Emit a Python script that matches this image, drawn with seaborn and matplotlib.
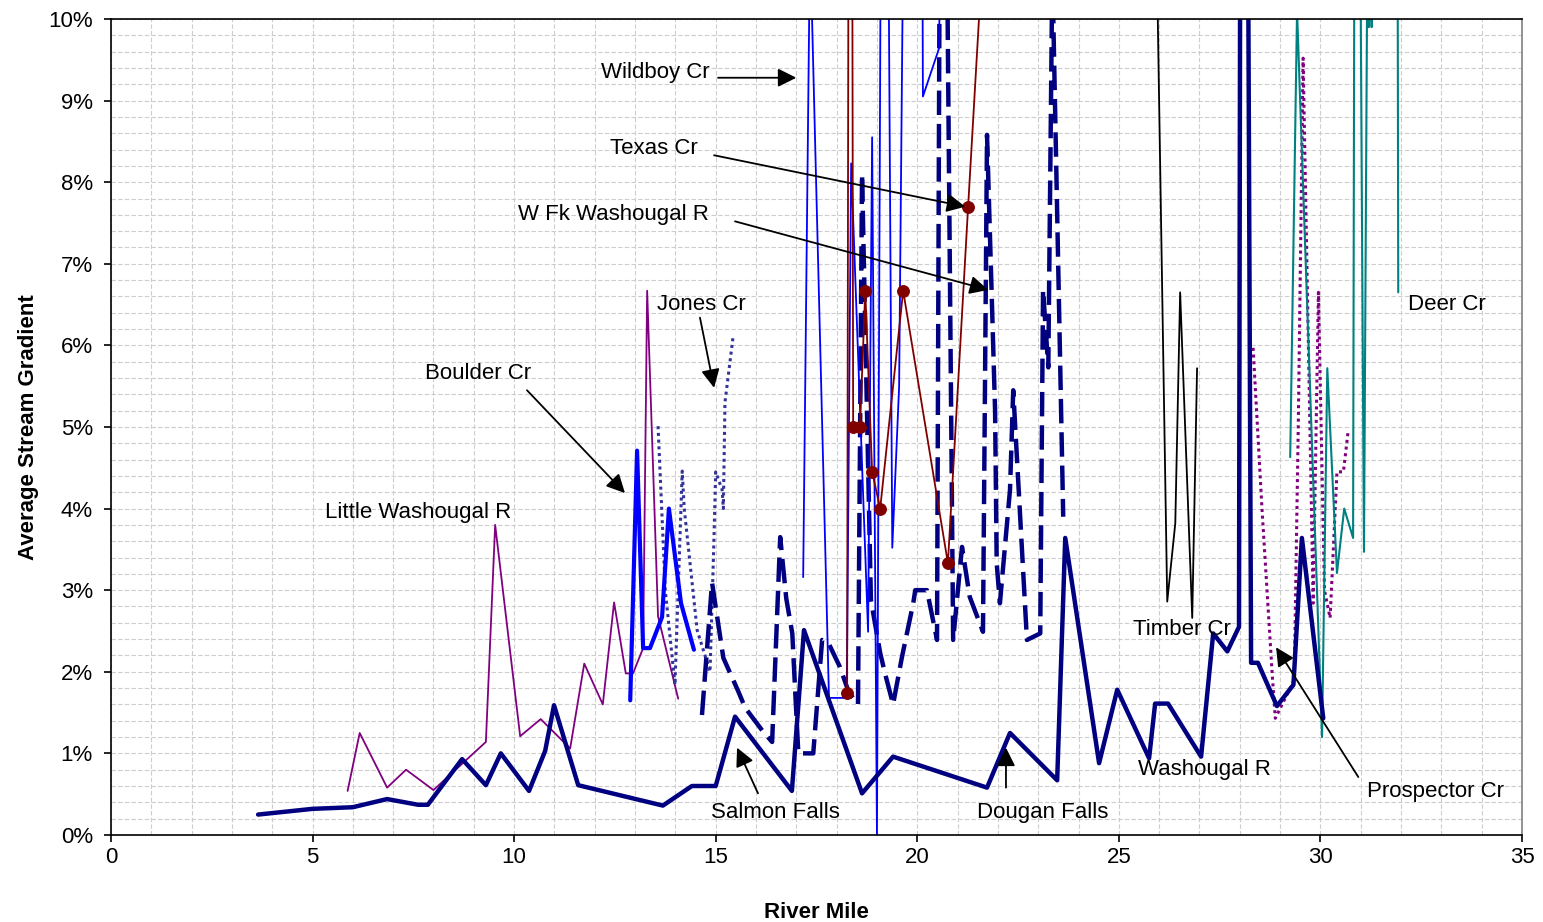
import matplotlib
matplotlib.use("Agg")
import matplotlib.pyplot as plt
import seaborn as sns
import numpy as np

# ---- data (river mile, average stream gradient %) ----
washougal_x = [3.65, 5.0, 6.0, 6.85, 7.62, 7.86, 8.71, 9.30, 9.67, 10.37, 10.77, 10.99, 11.59, 13.69, 14.41, 15.0,
               np.nan, 15.48, 16.89, 17.19, 18.63, 19.40, 21.73,
               np.nan, 22.30, 23.47, 23.67, 24.51, 24.96, 25.75, 25.90, 26.22, 27.04, 27.34, 27.69, 27.98,
               28.02, 28.18, 28.28, 28.45, 28.92, 29.33, 29.54, 30.07]
washougal_y = [0.25, 0.32, 0.34, 0.44, 0.37, 0.37, 0.93, 0.61, 1.0, 0.54, 1.03, 1.59, 0.61, 0.36, 0.6, 0.6,
               np.nan, 1.45, 0.54, 2.51, 0.51, 0.96, 0.58,
               np.nan, 1.25, 0.67, 3.64, 0.88, 1.78, 0.94, 1.61, 1.61, 0.96, 2.47, 2.25, 2.55,
               14.0, 14.0, 2.11, 2.11, 1.58, 1.84, 3.64, 1.43]

little_x = [5.87, 6.17, 6.85, 7.32, 8.0, 9.30, 9.53, 10.15, 10.66, 11.39, 11.74, 12.20, 12.48, 12.77, 12.95,
            13.20, 13.30, 13.57, 14.07]
little_y = [0.54, 1.25, 0.58, 0.80, 0.55, 1.14, 3.80, 1.21, 1.42, 1.06, 2.10, 1.60, 2.85, 1.98, 1.98,
            2.29, 6.67, 2.68, 1.67]

boulder_x = [12.88, 13.05, 13.20, 13.37, 13.67, 13.84, 14.14, 14.46]
boulder_y = [1.65, 4.71, 2.29, 2.29, 2.67, 4.00, 2.84, 2.27]

jones_x = [13.57, 13.75, 13.99, 14.17, 14.22, 14.54, 14.86, 14.95, 15.0, 15.16, 15.19, 15.23, 15.43]
jones_y = [5.01, 3.0, 1.84, 4.46, 4.0, 2.51, 2.0, 3.5, 4.45, 4.23, 4.0, 5.3, 6.1]

wfk_x = [14.66, 14.91, 15.19, 15.56, 15.73, 16.17, 16.40, 16.60, 16.75, 16.90, 17.05, 17.42, 17.64, 17.80,
         18.08, 18.30, 18.53, 18.63, 18.85, 19.08, 19.20, 19.40, 19.62, 19.90, 19.95, 20.24, 20.49, 20.55,
         20.75, 20.89, 21.11, 21.30, 21.63, 21.73, 21.93, 21.97, 22.05, 22.30, 22.38, 22.72, 23.05, 23.12,
         23.25, 23.35, 23.62]
wfk_y = [1.47, 3.09, 2.17, 1.76, 1.56, 1.27, 1.14, 3.65, 2.9, 2.47, 1.0, 1.0, 2.39, 2.35,
         2.06, 1.75, 1.6, 8.1, 2.88, 2.23, 1.98, 1.6, 2.18, 2.84, 3.0, 3.0, 2.39, 10.2,
         10.2, 2.39, 3.53, 2.92, 2.49, 8.58, 5.2, 3.33, 2.84, 4.23, 5.45, 2.39, 2.47, 6.68,
         5.73, 10.6, 3.9]

wildboy_x = [17.17, 17.34, 17.81, 18.25, 18.36, 18.78, 18.88, 19.0, 19.17, 19.38, 19.55, 19.67, 20.12, 20.14,
             20.54, 20.60]
wildboy_y = [3.16, 11.0, 1.68, 1.68, 8.23, 2.49, 8.55, 0.0, 20.0, 3.52, 5.5, 12.0, 12.0, 9.05,
             9.64, 12.0]

texas_x = [18.26, 18.34, 18.41, 18.58, 18.71, 18.88, 19.08, 19.65, 20.76, 21.26, 21.80]
texas_y = [1.74, 24.0, 5.0, 5.0, 6.67, 4.45, 4.0, 6.67, 3.33, 7.69, 12.3]

timber_x = [25.90, 26.20, 26.40, 26.52, 26.82, 26.94]
timber_y = [12.0, 2.86, 3.82, 6.65, 2.66, 5.72]

prospector_x = [28.33, 28.55, 28.80, 28.88, 29.05, 29.35, 29.45, 29.57, 29.82, 29.95, 30.10, 30.24, 30.41,
                30.57, 30.69]
prospector_y = [5.97, 4.0, 2.0, 1.43, 1.6, 1.9, 5.0, 9.52, 2.84, 6.65, 3.0, 2.66, 4.45,
                4.45, 4.96]

deer_x = [29.25, 29.42, 30.04, 30.17, 30.41, 30.59, 30.81, 30.88, 31.08, 31.16, 31.20, 31.24, 31.27, 31.30,
          31.90, 31.93]
deer_y = [4.63, 10.1, 1.2, 5.72, 3.21, 4.0, 3.64, 20.0, 3.47, 10.5, 9.9, 10.5, 9.9, 10.5,
          15.0, 6.65]

y_ticks = [0, 1, 2, 3, 4, 5, 6, 7, 8, 9, 10]
y_tick_labels = [f"{v}%" for v in y_ticks]
x_ticks = [0, 5, 10, 15, 20, 25, 30, 35]

sns.set_style("white")
plt.rcParams['font.family'] = ['Liberation Sans', 'DejaVu Sans']
plt.rcParams['font.size'] = 16
plt.rcParams['text.color'] = 'black'
plt.rcParams['axes.labelcolor'] = 'black'
plt.rcParams['xtick.color'] = 'black'
plt.rcParams['ytick.color'] = 'black'

fig = plt.figure(figsize=(15.43, 9.22), dpi=100)
ax = fig.add_axes([0.0719, 0.0944, 0.9145, 0.885])

# (x, y, color, width, linestyle)
series = [
    (little_x, little_y, '#800080', 1.3, '-'),
    (jones_x, jones_y, '#333399', 2.2, (0, (1, 1.2))),
    (wfk_x, wfk_y, '#000080', 3.2, (0, (5.5, 2))),
    (wildboy_x, wildboy_y, '#0000FF', 1.3, '-'),
    (timber_x, timber_y, '#000000', 1.3, '-'),
    (prospector_x, prospector_y, '#800080', 2.2, (0, (1, 1.2))),
    (deer_x, deer_y, '#008080', 1.5, '-'),
    (washougal_x, washougal_y, '#000080', 3.2, '-'),
    (boulder_x, boulder_y, '#0000FF', 3.0, '-'),
]
for xs, ys, col, lw, ls in series:
    sns.lineplot(x=xs, y=ys, ax=ax, sort=False, estimator=None, color=col,
                 linewidth=lw, linestyle=ls)

sns.lineplot(x=texas_x, y=texas_y, ax=ax, sort=False, estimator=None, color='#800000',
             linewidth=1.3, marker='o', markersize=8.5, markeredgecolor='#800000')

ax.set_xlim(0, 35)
ax.set_ylim(0, 10)
ax.set_xticks(x_ticks)
ax.set_yticks(y_ticks)
ax.set_yticklabels(y_tick_labels)
ax.set_xticks(np.arange(0, 36, 1), minor=True)
ax.set_yticks(np.arange(0, 10.01, 0.2), minor=True)
ax.grid(which='both', color='#cdcdcd', linestyle=(0, (4, 2)), linewidth=0.8)
ax.set_axisbelow(True)
ax.tick_params(which='major', direction='out', length=5, width=1.2, left=True, bottom=True,
               labelsize=16, pad=4)
ax.tick_params(axis='y', which='major', pad=8)
ax.tick_params(which='minor', length=0)
for side in ['left', 'bottom', 'top']:
    ax.spines[side].set_color('#000000')
    ax.spines[side].set_linewidth(1.2)
ax.spines['right'].set_color('#808080')
ax.spines['right'].set_linewidth(1.2)

ax.set_xlabel('River Mile', fontsize=16, fontweight='bold', labelpad=24)
ax.set_ylabel('Average Stream Gradient', fontsize=16, fontweight='bold', labelpad=7)

# labels with arrows: (text, text x, text y, arrow start, arrow end)
arrow_kw = dict(arrowstyle='-|>', color='black', lw=1.3, mutation_scale=28, shrinkA=0, shrinkB=0)
notes = [
    ('Wildboy Cr', 12.16, 9.35, (15.06, 9.28), (17.0, 9.28)),
    ('Texas Cr', 12.38, 8.41, (14.96, 8.33), (21.19, 7.70)),
    ('W Fk Washougal R', 10.10, 7.60, (15.48, 7.52), (21.76, 6.68)),
    ('Jones Cr', 13.55, 6.50, (14.61, 6.34), (14.96, 5.48)),
    ('Boulder Cr', 7.79, 5.66, (10.32, 5.45), (12.75, 4.19)),
    ('Little Washougal R', 5.31, 3.95, None, None),
    ('Salmon Falls', 14.88, 0.28, (16.05, 0.51), (15.53, 1.07)),
    ('Dougan Falls', 21.48, 0.28, (22.2, 0.58), (22.2, 1.07)),
    ('Timber Cr', 25.35, 2.52, None, None),
    ('Washougal R', 25.48, 0.80, None, None),
    ('Prospector Cr', 31.16, 0.53, (30.94, 0.71), (28.9, 2.30)),
    ('Deer Cr', 32.18, 6.50, None, None),
]
for label, tx, ty, a0, a1 in notes:
    ax.text(tx, ty, label, ha='left', va='center', fontsize=16, color='black')
    if a0 is not None:
        ax.annotate('', xy=a1, xytext=a0, arrowprops=arrow_kw)

fig.savefig('out.png', dpi=100)
